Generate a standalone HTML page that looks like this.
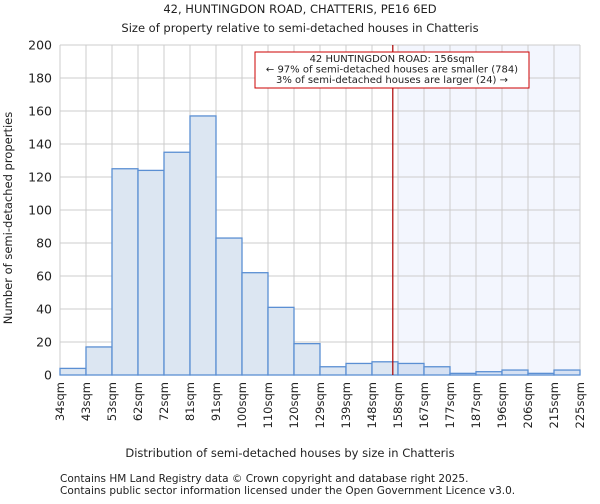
<!DOCTYPE html>
<html><head><meta charset="utf-8"><style>
body{margin:0;background:#fff;font-family:"DejaVu Sans","Liberation Sans",sans-serif}
svg text{font-family:"DejaVu Sans","Liberation Sans",sans-serif;fill:#222}
</style></head><body>
<svg id="c" width="600" height="500">
<text x="300" y="13" font-size="11.5" text-anchor="middle">42, HUNTINGDON ROAD, CHATTERIS, PE16 6ED</text>
<text x="300" y="32" font-size="11.5" text-anchor="middle">Size of property relative to semi-detached houses in Chatteris</text>
<g id="plot"></g>
<text x="290" y="457" font-size="11.5" text-anchor="middle">Distribution of semi-detached houses by size in Chatteris</text>
<text transform="translate(12,218) rotate(-90)" font-size="11.5" text-anchor="middle">Number of semi-detached properties</text>
<text x="60" y="482" font-size="10.5" fill="#444">Contains HM Land Registry data © Crown copyright and database right 2025.</text>
<text x="60" y="494" font-size="10.5" fill="#444">Contains public sector information licensed under the Open Government Licence v3.0.</text>
</svg>
<script>
const labels=["34sqm","43sqm","53sqm","62sqm","72sqm","81sqm","91sqm","100sqm","110sqm","120sqm","129sqm","139sqm","148sqm","158sqm","167sqm","177sqm","187sqm","196sqm","206sqm","215sqm","225sqm"];
const counts=[4,17,125,124,135,157,83,62,41,19,5,7,8,7,5,1,2,3,1,3];
const yTicks=[0,20,40,60,80,100,120,140,160,180,200];
const propertyBin=12.8;
const highlightStart=13;
const L=60,R=580,T=45,B=375,yMax=200;
const bw=(R-L)/counts.length;
const x=i=>L+i*bw, y=v=>B-(v/yMax)*(B-T);
const ns="http://www.w3.org/2000/svg", g=document.getElementById('plot');
function el(t,a){const e=document.createElementNS(ns,t);for(const k in a)e.setAttribute(k,a[k]);g.appendChild(e);return e;}
let sh=el('rect',{x:x(highlightStart),y:T,width:R-x(highlightStart),height:B-T,fill:'#f3f6fe'});


for(let i=0;i<=counts.length;i++){const l=el('line',{x1:x(i),x2:x(i),y1:T,y2:B,stroke:'#ccc'});

}
yTicks.forEach(v=>{const l=el('line',{x1:L,x2:R,y1:y(v),y2:y(v),stroke:'#ccc'});


const t=el('text',{x:L-8,y:y(v)+4.5,'font-size':12.5,'text-anchor':'end'});t.textContent=v;

});
counts.forEach((c,i)=>{const r=el('rect',{x:x(i),y:y(c),width:bw,height:B-y(c),fill:i>=highlightStart?'#d6e1f3':'#dce6f2',stroke:'#5b8fd3','stroke-width':1.3});

});
labels.forEach((s,i)=>{const t=el('text',{transform:`translate(${x(i)+4},${B+7}) rotate(-90)`,'font-size':11.5,'text-anchor':'end'});t.textContent=s;

});
const lx=x(propertyBin);
const m=el('line',{x1:lx,x2:lx,y1:T,y2:B,stroke:'#a00','stroke-width':1.2});


const bx=el('rect',{x:255,y:52,width:274,height:36,fill:'#fff',stroke:'#c00'});


["42 HUNTINGDON ROAD: 156sqm","← 97% of semi-detached houses are smaller (784)","3% of semi-detached houses are larger (24) →"].forEach((s,i)=>{const t=el('text',{x:392,y:62+i*10.5,'font-size':10,'text-anchor':'middle'});t.textContent=s;

});
</script>
</body></html>
